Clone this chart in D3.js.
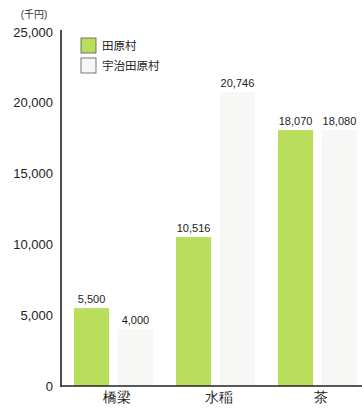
<!DOCTYPE html>
<html>
<head>
<meta charset="utf-8">
<script src="https://cdn.jsdelivr.net/npm/d3@7"></script>
<style>
  body { margin: 0; background: #fff; }
  svg { display: block; font-family: "Liberation Sans", "Noto Sans CJK JP", sans-serif; }
</style>
</head>
<body>
<div id="canvas"></div>
<script>
const w = 362, h = 410;

// data
const categories = ["橋梁", "水稲", "茶"];
const seriesNames = ["田原村", "宇治田原村"];
const tawara = [5500, 10516, 18070];
const ujitawara = [4000, 20746, 18080];
const yTicks = [0, 5000, 10000, 15000, 20000, 25000];
const unitLabel = "(千円)";

const colors = ["#b9de5c", "#f7f7f5"];

let svg = d3.select("#canvas")
            .append("svg")
                .attr("width", w)
                .attr("height", h)
                .attr("viewBox", [0, 0, w, h]);

const y = d3.scaleLinear()
    .domain([0, 25000])
    .range([386, 32]);

const x0 = d3.scaleBand()
    .domain(categories)
    .range([62, 368]);

const x1 = d3.scaleBand()
    .domain(seriesNames)
    .range([12, 91])
    .paddingInner(0.2);

const rows = categories.map((c, i) => ({cat: c, vals: [tawara[i], ujitawara[i]]}));

// bars
const g = svg.append("g");
const groups = g.selectAll("g.grp")
    .data(rows)
  .enter().append("g")
    .attr("class", "grp")
    .attr("transform", d => "translate(" + x0(d.cat) + ",0)");

groups.selectAll("rect")
    .data(d => d.vals.map((v, j) => ({s: seriesNames[j], v: v, j: j})))
  .enter().append("rect")
    .attr("x", d => x1(d.s))
    .attr("y", d => y(d.v))
    .attr("width", x1.bandwidth())
    .attr("height", d => y(0) - y(d.v))
    .attr("fill", d => colors[d.j]);

groups.selectAll("text.val")
    .data(d => d.vals.map((v, j) => ({s: seriesNames[j], v: v})))
  .enter().append("text")
    .attr("class", "val")
    .attr("x", d => x1(d.s) + x1.bandwidth() / 2)
    .attr("y", d => y(d.v) - 5)
    .attr("text-anchor", "middle")
    .attr("font-size", 11)
    .attr("fill", "#222")
    .text(d => d3.format(",")(d.v));

// y axis
const yAxis = d3.axisLeft(y)
    .tickValues(yTicks)
    .tickSize(0)
    .tickPadding(8)
    .tickFormat(d3.format(","));

const gY = svg.append("g")
    .attr("transform", "translate(61,0)")
    .call(yAxis);
gY.select(".domain").attr("stroke", "#222").attr("stroke-width", 1.6).attr("d", "M0," + (y(25000) - 2) + "V" + (y(0) + 1));
gY.selectAll("text").attr("font-size", 13).attr("fill", "#222");

// x axis
const xAxis = d3.axisBottom(x0)
    .tickSize(0)
    .tickPadding(6);

const gX = svg.append("g")
    .attr("transform", "translate(0," + y(0) + ")")
    .call(xAxis);
gX.select(".domain").attr("stroke", "#222").attr("stroke-width", 1.6).attr("d", "M61,0H362");
gX.selectAll("text")
    .attr("font-size", 14)
    .attr("fill", "#222")
    .attr("dx", 4);

// unit label
svg.append("text")
    .attr("x", 34)
    .attr("y", 18)
    .attr("text-anchor", "middle")
    .attr("font-size", 10)
    .attr("fill", "#333")
    .text(unitLabel);

// legend
const legend = svg.append("g").attr("transform", "translate(81,38)");
seriesNames.forEach((s, i) => {
    legend.append("rect")
        .attr("x", 0)
        .attr("y", i * 20)
        .attr("width", 15)
        .attr("height", 15)
        .attr("fill", colors[i])
        .attr("stroke", "#555")
        .attr("stroke-width", 0.8);
    legend.append("text")
        .attr("x", 21)
        .attr("y", i * 20 + 12)
        .attr("font-size", 11.5)
        .attr("fill", "#222")
        .text(s);
});
</script>
</body>
</html>
